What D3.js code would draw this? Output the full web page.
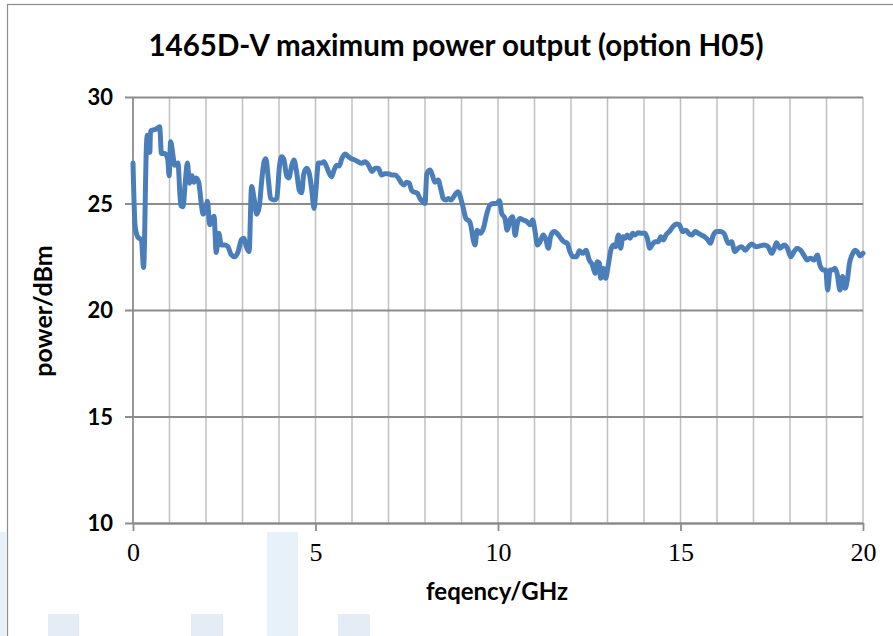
<!DOCTYPE html>
<html>
<head>
<meta charset="utf-8">
<script src="https://cdn.jsdelivr.net/npm/d3@7"></script>
<style>
  html, body { margin: 0; padding: 0; background: #fff; }
  svg { display: block; }
</style>
</head>
<body>
<div id="chart"></div>
<script>
// frequency (GHz) and output power (dBm)
var freq = [
  0.00, 0.06, 0.14, 0.23, 0.29, 0.37, 0.39, 0.46, 0.48, 0.55, 0.64, 0.73, 0.78, 0.87, 0.95,
  0.99, 1.03, 1.10, 1.14, 1.23, 1.31, 1.37, 1.43, 1.49, 1.55, 1.62, 1.67, 1.73, 1.80, 1.87,
  1.92, 1.99, 2.04, 2.10, 2.16, 2.22, 2.28, 2.35, 2.42, 2.52, 2.60, 2.69, 2.79, 2.88, 2.97,
  3.04, 3.10, 3.18, 3.25, 3.32, 3.39, 3.46, 3.52, 3.59, 3.64, 3.71, 3.77, 3.86, 3.94, 4.01,
  4.07, 4.13, 4.21, 4.27, 4.35, 4.41, 4.48, 4.56, 4.62, 4.68, 4.76, 4.83, 4.90, 4.96, 5.01,
  5.08, 5.17, 5.23, 5.31, 5.38, 5.44, 5.51, 5.58, 5.65, 5.72, 5.81, 5.90, 5.99, 6.08, 6.17,
  6.26, 6.36, 6.45, 6.55, 6.63, 6.72, 6.81, 6.90, 6.99, 7.09, 7.18, 7.27, 7.36, 7.42, 7.50,
  7.57, 7.63, 7.69, 7.79, 7.86, 7.94, 8.00, 8.05, 8.14, 8.20, 8.27, 8.36, 8.44, 8.50, 8.57,
  8.64, 8.71, 8.78, 8.85, 8.91, 8.98, 9.05, 9.12, 9.22, 9.28, 9.32, 9.37, 9.43, 9.51, 9.60,
  9.69, 9.78, 9.87, 9.96, 10.04, 10.10, 10.19, 10.25, 10.33, 10.40, 10.47, 10.53, 10.60, 10.69, 10.79,
  10.88, 10.95, 11.01, 11.08, 11.15, 11.24, 11.30, 11.38, 11.44, 11.53, 11.62, 11.72, 11.81, 11.90, 11.97,
  12.06, 12.15, 12.23, 12.32, 12.41, 12.50, 12.59, 12.66, 12.72, 12.78, 12.81, 12.88, 12.95, 13.02, 13.09,
  13.16, 13.22, 13.30, 13.36, 13.42, 13.48, 13.54, 13.62, 13.69, 13.75, 13.84, 13.93, 14.03, 14.09, 14.16,
  14.22, 14.30, 14.39, 14.46, 14.53, 14.60, 14.69, 14.79, 14.88, 14.97, 15.06, 15.15, 15.22, 15.31, 15.40,
  15.49, 15.57, 15.66, 15.75, 15.82, 15.90, 15.99, 16.08, 16.19, 16.31, 16.40, 16.49, 16.58, 16.68, 16.77,
  16.86, 16.95, 17.07, 17.16, 17.29, 17.40, 17.50, 17.57, 17.63, 17.73, 17.84, 17.93, 18.02, 18.11, 18.20,
  18.29, 18.38, 18.47, 18.56, 18.66, 18.75, 18.82, 18.91, 18.98, 19.03, 19.10, 19.16, 19.23, 19.29, 19.37,
  19.44, 19.51, 19.57, 19.63, 19.70, 19.78, 19.84, 19.92, 20.00
];
var power = [
  26.9, 23.9, 23.4, 23.3, 22.0, 27.8, 28.2, 27.4, 28.4, 28.45, 28.5, 28.6, 27.35, 27.35, 27.1,
  26.3, 27.9, 27.2, 26.8, 26.9, 24.9, 24.85, 25.95, 26.9, 25.95, 26.3, 26.0, 26.2, 26.0, 25.0,
  24.5, 24.7, 25.1, 24.0, 24.2, 24.4, 22.7, 23.6, 23.05, 23.05, 22.97, 22.6, 22.5, 22.74, 23.3,
  23.37, 23.0, 22.74, 25.8, 25.2, 24.5, 24.85, 25.95, 26.96, 27.1, 26.1, 25.24, 25.16, 25.24, 26.7,
  27.2, 27.1, 26.3, 26.2, 26.8, 27.04, 26.5, 25.6, 25.5, 26.4, 26.65, 26.4, 25.6, 24.77, 25.6,
  26.9, 26.9, 26.96, 26.7, 26.4, 26.26, 26.57, 26.8, 26.76, 27.1, 27.32, 27.2, 27.1, 27.04, 26.96,
  26.89, 26.96, 26.8, 26.5, 26.65, 26.65, 26.34, 26.4, 26.4, 26.34, 26.34, 26.2, 25.95, 25.87, 26.0,
  25.95, 25.63, 25.55, 25.48, 25.24, 25.08, 25.0, 26.4, 26.57, 26.34, 26.0, 26.1, 25.63, 25.24, 25.16,
  25.24, 25.16, 25.3, 25.48, 25.55, 25.24, 24.77, 24.3, 24.15, 23.75, 23.3, 23.05, 23.75, 23.6, 23.83,
  24.5, 24.93, 25.0, 25.0, 25.13, 24.54, 24.3, 23.75, 24.23, 24.38, 23.5, 24.07, 24.3, 24.23, 24.15,
  24.0, 24.23, 23.75, 23.05, 23.2, 23.52, 23.37, 22.9, 23.44, 23.68, 23.6, 23.37, 23.2, 23.13, 22.74,
  22.5, 22.5, 22.78, 22.66, 22.8, 22.35, 22.1, 21.72, 22.27, 22.2, 21.49, 21.96, 21.49, 22.1, 22.8,
  23.05, 22.97, 23.52, 22.9, 23.44, 23.37, 23.52, 23.37, 23.6, 23.52, 23.63, 23.6, 23.6, 23.37, 22.9,
  23.05, 23.2, 23.2, 23.44, 23.29, 23.52, 23.68, 23.9, 24.04, 24.0, 23.68, 23.75, 23.6, 23.52, 23.68,
  23.6, 23.52, 23.44, 23.29, 23.13, 23.52, 23.68, 23.68, 23.6, 23.13, 23.2, 22.74, 22.9, 22.97, 22.8,
  22.97, 23.1, 22.97, 23.0, 23.05, 22.97, 22.66, 22.9, 23.16, 22.9, 23.05, 22.9, 22.5, 22.74, 22.9,
  22.8, 22.58, 22.35, 22.43, 22.35, 22.58, 22.1, 21.88, 21.88, 20.94, 21.88, 21.88, 21.96, 21.72, 20.94,
  21.57, 21.02, 21.4, 22.2, 22.58, 22.8, 22.74, 22.54, 22.66
];

var xTicks = [0, 5, 10, 15, 20];
var xMinor = d3.range(0, 21, 1);
var yTicks = [10, 15, 20, 25, 30];

var titleText = "1465D-V maximum power output (option H05)";
var xLabel = "feqency/GHz";
var yLabel = "power/dBm";

var width = 893, height = 636;
var margin = { top: 97, right: 30, bottom: 113, left: 133 };
var plotW = 863 - margin.left;
var plotH = 523 - margin.top;

var svg = d3.select("#chart")
    .append("svg")
    .attr("width", width)
    .attr("height", height);

// pale page blocks behind the chart (from the source page)
var blocks = [
  { x: 0, y: 532, w: 6, h: 104, c: "#e6f1fa" },
  { x: 48, y: 614, w: 31, h: 22, c: "#e4ecf5" },
  { x: 191, y: 614, w: 32, h: 22, c: "#e4ecf5" },
  { x: 267, y: 532, w: 31, h: 104, c: "#e6f1fa" },
  { x: 338, y: 614, w: 32, h: 22, c: "#e4ecf5" }
];
svg.selectAll("rect.block")
    .data(blocks)
    .enter().append("rect")
    .attr("class", "block")
    .attr("x", function (d) { return d.x; })
    .attr("y", function (d) { return d.y; })
    .attr("width", function (d) { return d.w; })
    .attr("height", function (d) { return d.h; })
    .attr("fill", function (d) { return d.c; });

// chart frame
svg.append("rect")
    .attr("x", 7.5)
    .attr("y", 4.5)
    .attr("width", 900)
    .attr("height", 700)
    .attr("fill", "none")
    .attr("stroke", "#8c8c8c")
    .attr("stroke-width", 1.2);

var g = svg.append("g")
    .attr("transform", "translate(" + margin.left + "," + margin.top + ")");

var x = d3.scaleLinear().domain([0, 20]).range([0, plotW]);
var y = d3.scaleLinear().domain([10, 30]).range([plotH, 0]);

// minor vertical grid
g.append("g")
    .selectAll("line")
    .data(xMinor.slice(1))
    .enter().append("line")
    .attr("x1", function (d) { return x(d); })
    .attr("x2", function (d) { return x(d); })
    .attr("y1", 0)
    .attr("y2", plotH)
    .attr("stroke", "#c0c0c0")
    .attr("stroke-width", 1.5);

// horizontal grid + y axis
var yAxis = d3.axisLeft(y)
    .tickValues(yTicks)
    .tickSize(-plotW - 8)
    .tickFormat(d3.format("d"));
var yg = g.append("g")
    .attr("transform", "translate(" + (-8) + ",0)")
    .call(yAxis);
yg.select(".domain").remove();
yg.selectAll(".tick line")
    .attr("x1", 0)
    .attr("x2", plotW + 8)
    .attr("stroke", "#8c8c8c")
    .attr("stroke-width", 1.8);
yg.selectAll(".tick text")
    .attr("x", -12)
    .attr("dy", "0.36em")
    .attr("font-family", "Lato, 'Open Sans', sans-serif")
    .attr("font-weight", "bold")
    .attr("font-size", 22)
    .attr("fill", "#000");

// y axis line
g.append("line")
    .attr("x1", 0).attr("x2", 0)
    .attr("y1", 0).attr("y2", plotH)
    .attr("stroke", "#8c8c8c")
    .attr("stroke-width", 1.8);

// x axis
var xAxis = d3.axisBottom(x)
    .tickValues(xTicks)
    .tickSize(8)
    .tickSizeOuter(0)
    .tickFormat(d3.format("d"));
var xg = g.append("g")
    .attr("transform", "translate(0," + plotH + ")")
    .call(xAxis);
xg.select(".domain")
    .attr("stroke", "#8c8c8c")
    .attr("stroke-width", 1.8);
xg.selectAll(".tick line")
    .attr("stroke", "#8c8c8c")
    .attr("stroke-width", 1.8);
xg.selectAll(".tick text")
    .attr("y", 20)
    .attr("dy", "0.71em")
    .attr("font-family", "'Liberation Serif', 'DejaVu Serif', serif")
    .attr("font-size", 26)
    .attr("fill", "#000");

// data line
var line = d3.line()
    .x(function (d) { return x(d[0]); })
    .y(function (d) { return y(d[1]); })
    .curve(d3.curveMonotoneX);

g.append("path")
    .datum(d3.zip(freq, power))
    .attr("d", line)
    .attr("fill", "none")
    .attr("stroke", "#4a7ebb")
    .attr("stroke-width", 5)
    .attr("stroke-linejoin", "round")
    .attr("stroke-linecap", "round");

// title and axis labels
svg.append("text")
    .attr("x", 456)
    .attr("y", 56)
    .attr("text-anchor", "middle")
    .attr("font-family", "Lato, 'Open Sans', sans-serif")
    .attr("font-weight", "bold")
    .attr("font-size", 29.5)
    .attr("fill", "#000")
    .text(titleText);

svg.append("text")
    .attr("x", 497)
    .attr("y", 600)
    .attr("text-anchor", "middle")
    .attr("font-family", "Lato, 'Open Sans', sans-serif")
    .attr("font-weight", "bold")
    .attr("font-size", 24)
    .attr("fill", "#000")
    .text(xLabel);

svg.append("text")
    .attr("transform", "translate(52,311) rotate(-90)")
    .attr("text-anchor", "middle")
    .attr("font-family", "Lato, 'Open Sans', sans-serif")
    .attr("font-weight", "bold")
    .attr("font-size", 25)
    .attr("fill", "#000")
    .text(yLabel);
</script>
</body>
</html>
